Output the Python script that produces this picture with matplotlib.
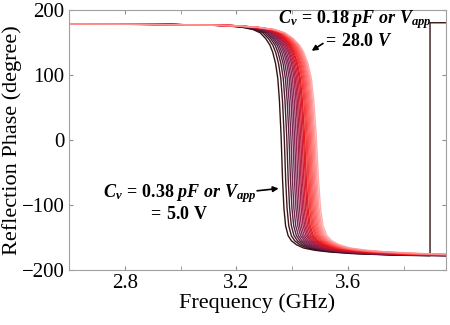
import numpy as np
import matplotlib
matplotlib.use("Agg")
import matplotlib.pyplot as plt
from matplotlib.colors import LinearSegmentedColormap

plt.rcParams["font.family"] = "Liberation Serif"
plt.rcParams["mathtext.fontset"] = "custom"
plt.rcParams["mathtext.rm"] = "Liberation Serif:bold"
plt.rcParams["mathtext.it"] = "Liberation Serif:italic:bold"
plt.rcParams["mathtext.bf"] = "Liberation Serif:bold"

shape_offset = [-0.76, -0.5, -0.3, -0.2, -0.14, -0.1, -0.075, -0.055, -0.04, -0.03,
                -0.02, -0.012, -0.006, 0.0, 0.005, 0.01, 0.016, 0.025, 0.037, 0.055,
                0.08, 0.12, 0.17, 0.25, 0.4, 0.6]
shape_phase = [179, 178.3, 177.2, 176, 173.5, 170, 165, 156, 146, 135,
               118, 95, 60, 5, -60, -105, -132, -147, -155, -161,
               -166, -169.5, -172, -174.5, -177, -178]

# zero-crossing frequency (GHz) and width of each curve, 5 V ... 28 V
volts = list(range(5, 29))
f_zero = [3.360, 3.371, 3.380, 3.388, 3.395, 3.402, 3.408, 3.414, 3.420, 3.425,
          3.430, 3.435, 3.440, 3.444, 3.449, 3.453, 3.457, 3.461, 3.465, 3.469,
          3.473, 3.477, 3.481, 3.486]
width = [1.0, 1.02, 1.04, 1.06, 1.08, 1.1, 1.12, 1.14, 1.16, 1.18, 1.2, 1.22,
         1.24, 1.26, 1.28, 1.3, 1.32, 1.34, 1.36, 1.38, 1.4, 1.43, 1.46, 1.5]

# phase wrap of the 5 V curve at the right end
wrap_f = [3.893, 3.893, 3.95]
wrap_phase = [-178, 180.5, 180.5]

cmap = LinearSegmentedColormap.from_list(
    "phase", ["#2a0606", "#6a1f4c", "#b3163e", "#f01010", "#ff4a4a", "#ff9a9a"])

fig = plt.figure(figsize=(4.5, 3.25), dpi=100)
ax = fig.add_axes([0.153, 0.169, 0.838, 0.8])

off = np.array(shape_offset)
ph = np.array(shape_phase)
n = len(volts)
for i in range(n):
    f = f_zero[i] + off * width[i]
    p = ph
    if i == 0:
        keep = f < wrap_f[0]
        f = np.concatenate([f[keep], wrap_f])
        p = np.concatenate([ph[keep], wrap_phase])
    c = cmap(i / (n - 1))
    ax.plot(f, p, color=c, lw=1.0, alpha=0.95 if i < 14 else 0.8)

ax.set_xlim(2.6, 3.95)
ax.set_ylim(-200, 200)
ax.set_xticks([2.8, 3.2, 3.6])
ax.set_xticks([3.0, 3.4, 3.8], minor=True)
ax.set_yticks([-200, -100, 0, 100, 200])
ax.tick_params(which="both", direction="in", length=3, color="#909090",
               top=True, right=True, labelsize=15, pad=3)
for s in ax.spines.values():
    s.set_color("#a0a0a0")
    s.set_linewidth(0.8)

ax.set_xlabel("Frequency (GHz)", fontsize=16, labelpad=0)
ax.set_ylabel("Reflection Phase (degree)", fontsize=16, labelpad=0)

fs = 13
ax.text(3.622, 185, r"$C_v\,=\,0.18\ pF\ or\ V_{app}$", fontsize=fs,
        ha="center", va="center")
ax.text(3.633, 152, r"$=\,28.0\ V$", fontsize=fs, ha="center", va="center")
ax.annotate("", xy=(3.461, 135), xytext=(3.518, 151),
            arrowprops=dict(arrowstyle="-|>", color="black", lw=1.2,
                            mutation_scale=8))
ax.text(2.998, -82, r"$C_v\,=\,0.38\ pF\ or\ V_{app}$", fontsize=fs,
        ha="center", va="center")
ax.text(2.991, -115, r"$=\,5.0\ \mathrm{V}$", fontsize=fs, ha="center", va="center")
ax.annotate("", xy=(3.361, -74), xytext=(3.264, -78.5),
            arrowprops=dict(arrowstyle="-|>", color="black", lw=1.2,
                            mutation_scale=8))

fig.savefig("out.png", dpi=100)
